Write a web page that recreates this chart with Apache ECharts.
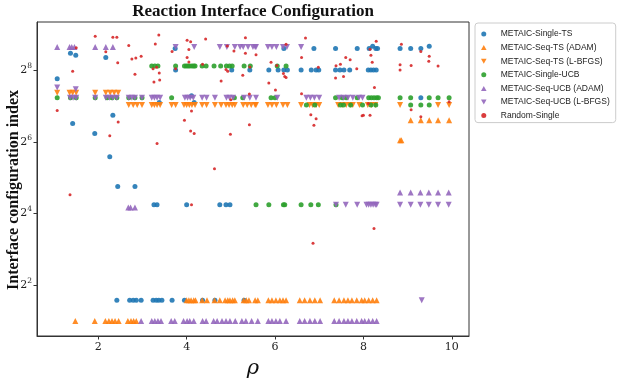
<!DOCTYPE html>
<html>
<head>
<meta charset="utf-8">
<script src="https://cdn.jsdelivr.net/npm/echarts@6/dist/echarts.min.js"></script>
<style>
html, body { margin: 0; padding: 0; background: #fff; }
#chart { width: 623px; height: 381px; }
</style>
</head>
<body>
<div id="chart"></div>
<script>
// points are [rho, configuration index]
const xTicks = [2, 4, 6, 8, 10]
const yTicks = [4, 16, 64, 256]

const singleTs = [
    [1.07, 216], [1.37, 355], [1.49, 340], [1.42, 91], [2.17, 327], [2.33, 107], [1.92, 75], [2.26, 48],
    [2.44, 27], [2.83, 27],
    [2.42, 3], [2.71, 3], [2.79, 3], [2.86, 3], [2.97, 3], [3.24, 3], [3.31, 3], [3.37, 3], [3.44, 3],
    [3.67, 3], [3.95, 3], [4.36, 3], [4.64, 3], [5.30, 3],
    [3.26, 19], [3.33, 19], [4.00, 19], [4.75, 19], [4.89, 19], [4.98, 19],
    [3.38, 137], [4.11, 156], [4.17, 137], [3.74, 388],
    [3.75, 256], [5.02, 256], [5.43, 256], [5.86, 256], [6.07, 256], [6.20, 256], [6.28, 256], [6.59, 256],
    [6.82, 256], [6.93, 256], [6.99, 256], [7.37, 256], [7.47, 256], [7.56, 256], [7.69, 256],
    [8.11, 256], [8.17, 256], [8.23, 256], [8.29, 256],
    [6.20, 388], [6.88, 388], [7.37, 388], [7.86, 388], [8.13, 388], [8.21, 406], [8.28, 388], [8.32, 388],
    [8.83, 388], [9.07, 388], [9.30, 388], [9.49, 405],
    [9.30, 150]
]
const seqTsAdam = [
    [1.48, 2], [1.92, 2], [2.16, 2], [2.24, 2], [2.31, 2], [2.38, 2], [2.46, 2], [2.67, 2], [2.74, 2],
    [2.80, 2], [2.86, 2],
    [4.00, 3], [4.05, 3], [4.10, 3], [4.16, 3], [4.20, 3], [4.35, 3], [4.46, 3], [4.63, 3], [4.75, 3],
    [4.87, 3], [4.93, 3], [4.98, 3], [5.04, 3], [5.09, 3], [5.29, 3], [5.35, 3], [5.41, 3], [5.55, 3],
    [5.61, 3], [5.85, 3], [5.93, 3], [6.02, 3], [6.11, 3], [6.18, 3], [6.25, 3], [6.56, 3], [6.67, 3],
    [6.79, 3], [6.90, 3], [7.02, 3], [7.34, 3], [7.45, 3], [7.56, 3], [7.65, 3], [7.74, 3], [7.85, 3],
    [7.96, 3], [8.03, 3], [8.12, 3], [8.21, 3], [8.30, 3],
    [8.83, 66], [8.86, 66],
    [9.07, 97], [9.30, 97], [9.49, 97], [9.69, 97], [9.94, 97]
]
const seqTsLbfgs = [
    [1.07, 165], [1.35, 165], [1.42, 165], [1.50, 165], [1.93, 165], [2.17, 165], [2.27, 165], [2.36, 165],
    [2.45, 165],
    [2.69, 130], [2.79, 130], [2.88, 130], [2.99, 130], [3.21, 130], [3.27, 130], [3.33, 130], [3.40, 130],
    [3.66, 130], [3.75, 130], [3.94, 130], [4.00, 130], [4.06, 130], [4.12, 130], [4.19, 130], [4.35, 130],
    [4.45, 130], [4.64, 130], [4.78, 130], [4.89, 130], [4.96, 130], [5.03, 130], [5.09, 130], [5.28, 130],
    [5.37, 130], [5.46, 130], [5.55, 130], [5.57, 130], [5.84, 130], [5.93, 130], [6.03, 130], [6.18, 130],
    [6.28, 130], [6.59, 130], [6.78, 130], [6.85, 130], [6.93, 130], [7.00, 130], [7.43, 130], [7.52, 130],
    [7.61, 130], [7.70, 130], [7.76, 130], [7.91, 130], [8.10, 130], [8.18, 130], [8.27, 130], [8.83, 130],
    [9.69, 130], [9.94, 130]
]
const singleUcb = [
    [1.07, 150], [1.37, 150], [1.50, 150], [1.93, 150], [2.20, 150], [2.31, 150], [2.42, 150], [2.69, 150],
    [2.83, 150], [2.99, 150], [3.66, 150], [5.08, 150], [5.27, 150], [5.91, 150], [6.00, 150], [7.37, 150],
    [7.52, 150], [7.61, 150], [7.86, 150], [8.12, 150], [8.18, 150], [8.24, 150], [8.30, 150], [8.34, 150],
    [8.83, 150], [9.07, 150], [9.49, 150], [9.69, 150], [9.94, 150],
    [3.21, 277], [3.28, 277], [3.35, 277], [3.75, 277], [3.95, 277], [3.99, 277], [4.03, 277], [4.07, 277],
    [4.12, 277], [4.16, 277], [4.19, 277], [4.35, 277], [4.44, 277], [4.62, 277], [4.77, 277], [4.90, 277],
    [4.97, 277], [5.03, 277], [5.30, 277], [5.44, 277], [6.05, 277], [6.25, 277],
    [6.71, 130], [6.90, 130], [7.48, 130], [7.55, 130], [7.71, 130], [7.98, 130], [8.17, 130], [8.28, 130],
    [9.07, 130], [9.30, 130], [9.49, 130],
    [5.57, 19], [5.86, 19], [6.19, 19], [6.22, 19], [6.59, 19], [6.81, 19], [6.98, 19], [7.38, 19]
]
const seqUcbAdam = [
    [1.07, 400], [1.35, 400], [1.40, 400], [1.46, 400], [1.93, 400], [2.17, 400], [2.33, 400],
    [2.68, 18], [2.73, 18], [2.83, 18],
    [2.97, 2], [3.21, 2], [3.28, 2], [3.35, 2], [3.42, 2], [3.65, 2], [3.73, 2], [3.93, 2], [4.01, 2],
    [4.07, 2], [4.16, 2], [4.36, 2], [4.44, 2], [4.61, 2], [4.69, 2], [4.80, 2], [4.89, 2], [4.98, 2],
    [5.10, 2], [5.25, 2], [5.34, 2], [5.47, 2], [5.61, 2], [5.85, 2], [5.93, 2], [6.02, 2], [6.11, 2],
    [6.25, 2], [6.56, 2], [6.67, 2], [6.79, 2], [6.90, 2], [7.02, 2], [7.34, 2], [7.45, 2], [7.56, 2],
    [7.65, 2], [7.74, 2], [7.85, 2], [7.96, 2], [8.03, 2], [8.12, 2], [8.21, 2], [8.30, 2],
    [8.83, 24], [9.07, 24], [9.29, 24], [9.48, 24], [9.69, 24], [9.93, 24]
]
const seqUcbLbfgs = [
    [1.07, 183], [1.49, 177],
    [1.36, 150], [1.43, 150], [1.50, 150], [1.93, 150], [2.17, 150], [2.25, 150], [2.33, 150], [2.42, 150],
    [2.69, 150], [2.76, 150], [2.83, 150], [2.99, 150], [3.21, 150], [3.27, 150], [3.33, 150], [3.40, 150],
    [3.96, 150], [4.02, 150], [4.08, 150], [4.15, 150], [4.35, 150], [4.45, 150], [4.64, 150], [4.90, 150],
    [4.97, 150], [5.05, 150], [5.30, 150], [5.43, 150], [5.57, 150], [6.05, 150], [6.71, 150], [6.80, 150],
    [6.89, 150], [7.00, 150], [7.45, 150], [7.55, 150], [7.65, 150], [7.76, 150], [7.90, 150], [7.98, 150],
    [3.75, 400], [4.17, 400], [4.75, 400], [4.91, 400], [5.09, 400], [5.21, 400], [5.28, 400], [5.39, 400],
    [5.50, 400], [5.55, 400], [5.57, 400], [5.84, 400], [5.93, 400], [6.03, 400], [6.18, 400], [6.27, 400],
    [6.59, 400],
    [7.38, 19], [7.60, 19], [7.86, 19], [8.07, 19], [8.12, 19], [8.17, 19], [8.22, 19], [8.27, 19],
    [8.30, 19], [8.83, 19], [9.07, 19], [9.29, 19], [9.48, 19], [9.69, 19], [9.93, 19],
    [9.32, 3]
]
const randomSingle = [
    [1.93, 491], [2.33, 482], [2.42, 482], [1.50, 394], [2.17, 365], [2.44, 295], [2.69, 412], [2.76, 317],
    [2.85, 323], [2.97, 335], [1.42, 250], [2.83, 236], [1.07, 117], [2.45, 94],
    [3.37, 504], [3.29, 424], [4.01, 455], [4.09, 443], [4.43, 467], [3.67, 367], [4.05, 380], [4.01, 327],
    [4.05, 299], [3.24, 263], [3.32, 270], [3.75, 263], [3.38, 242], [3.26, 203], [3.39, 211], [4.36, 287],
    [4.78, 207], [4.89, 259], [4.93, 250], [4.92, 407], [5.07, 370], [5.33, 477], [5.33, 354], [5.27, 231],
    [5.43, 271], [5.42, 161], [5.00, 144], [4.11, 116], [3.95, 97], [5.42, 89],
    [6.69, 475], [6.25, 422], [5.57, 344], [5.91, 297], [6.04, 280], [6.19, 239], [6.22, 226], [6.25, 222],
    [5.86, 199], [6.01, 174], [6.60, 327], [6.98, 270], [6.60, 162], [6.81, 108], [6.93, 100], [6.88, 88],
    [7.38, 278], [7.48, 286], [7.60, 327], [7.70, 312], [7.85, 263], [7.37, 220], [7.55, 226], [7.97, 106],
    [8.29, 446], [8.15, 382], [8.17, 340], [8.20, 297], [8.86, 422], [8.83, 284], [8.83, 256], [9.08, 280],
    [9.30, 367], [9.49, 335], [9.48, 303], [9.69, 277], [8.25, 183], [8.11, 134], [8.00, 107], [8.15, 107],
    [9.08, 119], [9.30, 104], [9.94, 139],
    [1.36, 23], [4.11, 19], [6.86, 9], [8.24, 12], [4.63, 38], [3.33, 62], [2.26, 72], [4.09, 79], [4.17, 75],
    [4.99, 74]
]

const chartDom = document.getElementById('chart')
const chart = echarts.init(chartDom, null, { renderer: 'canvas' })

// legend glyphs, same size for up and down
const upTriangle = 'path://M5,0 L10,9 L0,9 Z'
const downTriangle = 'path://M0,0 L10,0 L5,9 Z'

const makeSeries = (name, data, symbol, rotate, color, size) => {
    return {
        type: 'scatter',
        name: name,
        data: data,
        symbol: symbol,
        symbolRotate: rotate,
        symbolSize: size,
        itemStyle: { color: color, opacity: 0.9 },
        emphasis: { disabled: true }
    }
}

const serif = '"DejaVu Serif", serif'
const option = {
    animation: false,
    grid: { left: 37, right: 154, top: 22, bottom: 45, show: true, borderColor: '#333', borderWidth: 1 },
    graphic: [
        {
            type: 'text', x: 253, y: 12,
            style: { text: 'Reaction Interface Configuration', font: 'bold 17px "Liberation Serif"', fill: '#111', align: 'center', verticalAlign: 'middle' }
        },
        {
            type: 'text', x: 14, y: 190, rotation: Math.PI / 2,
            style: { text: 'Interface configuration index', font: 'bold 16px "Liberation Serif"', fill: '#111', align: 'center', verticalAlign: 'middle' }
        },
        {
            type: 'text', x: 253, y: 369,
            style: { text: 'ρ', font: 'italic 21px "DejaVu Serif"', fill: '#111', align: 'center', verticalAlign: 'middle' }
        }
    ],
    legend: {
        orient: 'vertical',
        left: 475,
        top: 23,
        padding: [5, 6, 1, 6],
        itemWidth: 10,
        itemHeight: 5,
        itemGap: 1.6,
        borderColor: '#ccc',
        borderWidth: 1,
        borderRadius: 3,
        symbolRotate: 0,
        textStyle: { fontFamily: '"Liberation Sans"', fontSize: 8.5, color: '#222', lineHeight: 12, padding: [0, 0, 0, 7] },
        data: [
            'METAIC-Single-TS',
            { name: 'METAIC-Seq-TS (ADAM)', icon: upTriangle },
            { name: 'METAIC-Seq-TS (L-BFGS)', icon: downTriangle },
            'METAIC-Single-UCB',
            { name: 'METAIC-Seq-UCB (ADAM)', icon: upTriangle },
            { name: 'METAIC-Seq-UCB (L-BFGS)', icon: downTriangle },
            'Random-Single'
        ]
    },
    xAxis: {
        type: 'value',
        min: 0.613,
        max: 10.39,
        splitLine: { show: false },
        axisLine: { lineStyle: { color: '#333' } },
        axisTick: { customValues: xTicks, length: 3.5, lineStyle: { color: '#333' } },
        axisLabel: { customValues: xTicks, margin: 6, fontFamily: serif, fontSize: 11, color: '#222' }
    },
    yAxis: {
        type: 'log',
        logBase: 2,
        min: 1.5,
        max: 648,
        splitLine: { show: false },
        axisLine: { lineStyle: { color: '#333' } },
        axisTick: { customValues: yTicks, length: 3.5, lineStyle: { color: '#333' } },
        axisLabel: {
            customValues: yTicks,
            margin: 5,
            formatter: (v) => '{b|2}{s|' + Math.round(Math.log2(v)) + '}',
            rich: {
                b: { fontFamily: serif, fontSize: 11, color: '#222', lineHeight: 16 },
                s: { fontFamily: serif, fontSize: 7.5, color: '#222', lineHeight: 8, verticalAlign: 'top' }
            }
        }
    },
    series: [
        makeSeries('METAIC-Single-TS', singleTs, 'circle', 0, '#1f77b4', 5),
        makeSeries('METAIC-Seq-TS (ADAM)', seqTsAdam, 'triangle', 0, '#ff7f0e', 6),
        makeSeries('METAIC-Seq-TS (L-BFGS)', seqTsLbfgs, 'triangle', 180, '#ff7f0e', 6),
        makeSeries('METAIC-Single-UCB', singleUcb, 'circle', 0, '#2ca02c', 5),
        makeSeries('METAIC-Seq-UCB (ADAM)', seqUcbAdam, 'triangle', 0, '#9467bd', 6),
        makeSeries('METAIC-Seq-UCB (L-BFGS)', seqUcbLbfgs, 'triangle', 180, '#9467bd', 6),
        makeSeries('Random-Single', randomSingle, 'circle', 0, '#d62728', 3)
    ]
}
chart.setOption(option)
</script>
</body>
</html>
